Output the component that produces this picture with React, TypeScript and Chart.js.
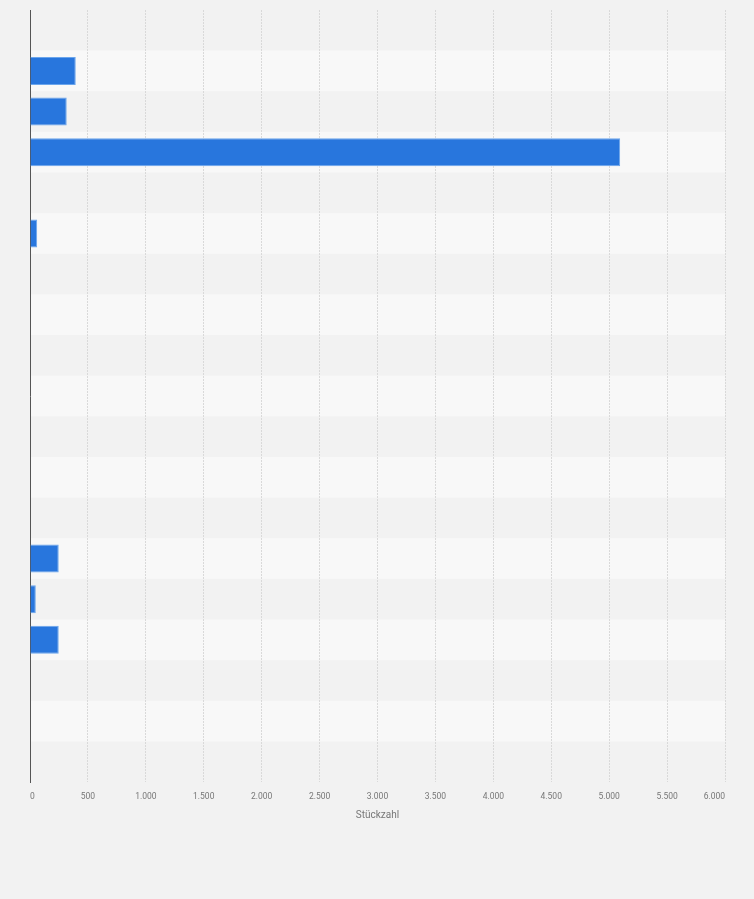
import React, { useEffect, useRef } from "react";
import { Chart, registerables } from "chart.js";

Chart.register(...registerables);

const categories: string[] = [
  "R1", "R2", "R3", "R4", "R5", "R6", "R7", "R8", "R9", "R10",
  "R11", "R12", "R13", "R14", "R15", "R16", "R17", "R18", "R19",
];
const values: number[] = [0, 395, 317, 5095, 0, 62, 0, 0, 0, 0, 0, 0, 0, 248, 50, 248, 0, 0, 0];
const xTickMax = 6000;
const xTickStep = 500;
const axisTitle = "Stückzahl";

const fmt = (v: number) => String(Math.round(v)).replace(/\B(?=(\d{3})+(?!\d))/g, ".");

const bandPlugin = {
  id: "bands",
  beforeDraw(chart: any) {
    const { ctx, chartArea } = chart;
    const n = categories.length;
    const h = (chartArea.bottom - chartArea.top) / n;
    ctx.save();
    for (let i = 0; i < n; i++) {
      if (i % 2 === 1) {
        ctx.fillStyle = "#f8f8f8";
        ctx.fillRect(chartArea.left, chartArea.top + i * h, chartArea.right - chartArea.left, h);
      }
    }
    ctx.restore();
  },
};

export default function App() {
  const ref = useRef<HTMLCanvasElement | null>(null);
  useEffect(() => {
    if (!ref.current) return;
    const chart = new Chart(ref.current, {
      type: "bar",
      data: {
        labels: categories,
        datasets: [
          {
            data: values,
            backgroundColor: "#2876dd",
            borderColor: "#6aa5ec",
            borderWidth: 1,
            barPercentage: 0.69,
            categoryPercentage: 1,
          },
        ],
      },
      options: {
        indexAxis: "y",
        animation: false,
        responsive: false,
        maintainAspectRatio: false,
        layout: { padding: { left: 30, right: 29, top: 10, bottom: 74 } },
        plugins: { legend: { display: false }, tooltip: { enabled: false } },
        scales: {
          x: {
            min: 0,
            max: xTickMax,
            afterFit: (s: any) => {
              s.height = 43;
            },
            ticks: {
              stepSize: xTickStep,
              align: "inner",
              padding: 10,
              color: "#777",
              font: { family: "Roboto, 'Liberation Sans', Arial, sans-serif", size: 8.5 },
              callback: (v: any) => fmt(Number(v)),
            },
            grid: {
              color: "#d9d9d9",
              lineWidth: 1,
              drawTicks: false,
            },
            border: { display: false, dash: [2, 1] },
            title: {
              display: true,
              text: axisTitle,
              color: "#777",
              padding: { top: 4, bottom: 4 },
              font: { family: "Roboto, 'Liberation Sans', Arial, sans-serif", size: 10 },
            },
          },
          y: {
            afterFit: (s: any) => {
              s.width = 0;
            },
            ticks: { display: false },
            grid: { display: false, drawTicks: false },
            border: { display: true, color: "#555", width: 1 },
          },
        },
      },
      plugins: [bandPlugin],
    });
    return () => chart.destroy();
  }, []);
  return (
    <div style={{ position: "absolute", left: 0, top: 0, width: 754, height: 899, background: "#f2f2f2" }}>
      <canvas ref={ref} width={754} height={899} style={{ display: "block" }} />
    </div>
  );
}
